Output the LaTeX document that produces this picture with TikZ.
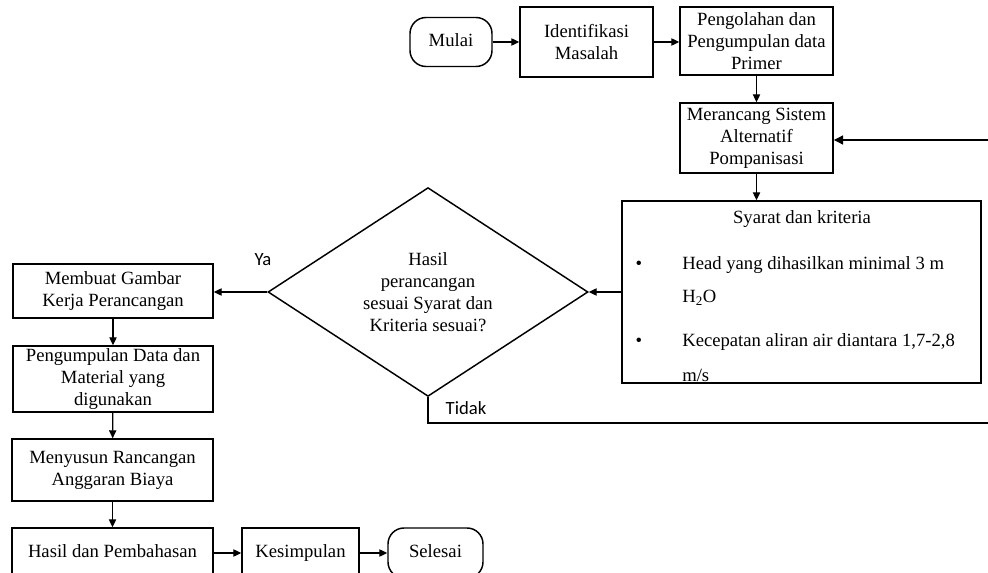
\documentclass[tikz,border=0pt]{standalone}
\usepackage{fontspec}
\setmainfont{Liberation Serif}
\newfontfamily\sansf{Carlito}
\usetikzlibrary{arrows.meta,shapes.geometric}
\begin{document}
\begin{tikzpicture}[x=0.75pt,y=-0.75pt,
  every node/.style={font=\fontsize{14}{16.5}\selectfont},
  box/.style={draw, line width=1.1pt, align=center, inner sep=0pt},
  one/.style={text height=9.5pt, text depth=3pt},
  term/.style={box, one, rounded corners=12pt},
  arr/.style={line width=0.9pt, -{Triangle[length=6pt,width=5.5pt]}},
  fb/.style={line width=2pt},
  lbl/.style={font=\sansf\fontsize{14}{16}\selectfont, inner sep=0pt}
]
\useasboundingbox (0,0) rectangle (988,573);
\clip (0,0) rectangle (988,573);

\node[term, minimum width=61.5pt, minimum height=36.75pt] (mulai) at (451,42) {Mulai};
\node[box, minimum width=99.75pt, minimum height=52.5pt] (ident) at (586.5,42) {Identifikasi\\Masalah};
\node[box, minimum width=114.75pt, minimum height=51pt] (olah) at (756.5,41) {Pengolahan dan\\Pengumpulan data\\Primer};
\node[box, minimum width=114.75pt, minimum height=52.5pt] (mer) at (756.5,138) {Merancang Sistem\\Alternatif\\Pompanisasi};
\node[box, minimum width=269.25pt, minimum height=136.5pt] (syarat) at (801.5,292) {};
\node (stitle) at (802,219) {Syarat dan kriteria};
\node (b1) at (639,265) {\textbullet};
\node[anchor=west, inner sep=0pt] (s1) at (682,265) {Head yang dihasilkan minimal 3 m};
\node[anchor=west, inner sep=0pt] (s2) at (682,298) {H\textsubscript{2}O};
\node (b2) at (639,342) {\textbullet};
\node[anchor=west, inner sep=0pt] (s3) at (682,342) {Kecepatan aliran air diantara 1,7-2,8};
\node[anchor=west, inner sep=0pt] (s4) at (682,375) {m/s};

\node[box, diamond, minimum width=240pt, minimum height=150pt] (dia) at (428,292) {Hasil\\perancangan\\sesuai Syarat dan\\Kriteria sesuai?};

\node[box, minimum width=150pt, minimum height=40.5pt] (buat) at (113,291) {Membuat Gambar\\Kerja Perancangan};
\node[box, minimum width=150pt, minimum height=49.5pt] (kumpul) at (113,379) {Pengumpulan Data dan\\Material yang\\digunakan};
\node[box, minimum width=150.75pt, minimum height=46.5pt] (susun) at (112.5,470) {Menyusun Rancangan\\Anggaran Biaya};
\node[box, one, minimum width=150.75pt, minimum height=37.5pt] (hasil) at (112.5,553) {Hasil dan Pembahasan};
\node[box, one, minimum width=87.75pt, minimum height=37.5pt] (simpul) at (300.5,553) {Kesimpulan};
\node[term, minimum width=71.25pt, minimum height=37.5pt] (selesai) at (435.5,553) {Selesai};

\node[lbl] (ya) at (263,260) {Ya};
\node[lbl] (tidak) at (466,408) {Tidak};

\draw[arr] (mulai) -- (ident);
\draw[arr] (ident.east) -- (ident.east -| olah.west);
\draw[arr] (olah) -- (mer);
\draw[arr] (mer.south) -- (mer.south |- syarat.north);
\draw[arr] (syarat.west) -- (dia.east);
\draw[arr] (dia.west) -- (dia.west -| buat.east);
\draw[arr] (buat) -- (kumpul);
\draw[arr] (kumpul) -- (susun);
\draw[arr] (susun) -- (hasil);
\draw[arr] (hasil) -- (simpul);
\draw[arr] (simpul) -- (selesai);

\coordinate (c1) at (428,423);
\coordinate (c2) at (995,423);
\coordinate (c3) at (995,140);
\draw[fb] (dia.south) -- (c1) -- (c2) -- (c3);
\draw[fb, -{Triangle[length=7pt,width=6.5pt]}] (c3) -- (c3 -| mer.east);
\end{tikzpicture}
\end{document}
